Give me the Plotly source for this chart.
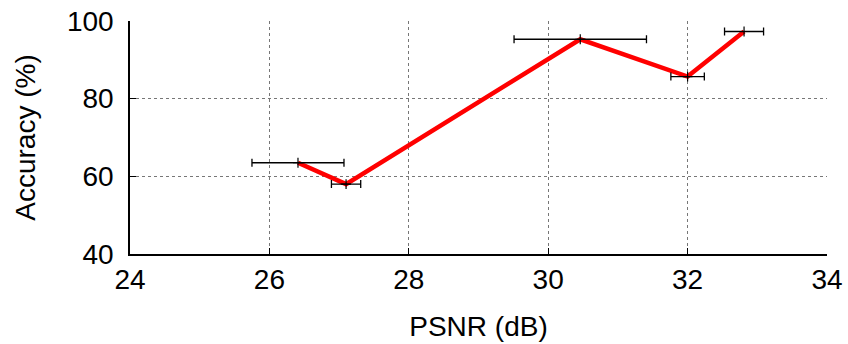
import plotly.graph_objects as go

# Measured accuracy vs. reconstruction quality, with PSNR spread
psnr = [26.41, 27.10, 30.46, 32.00, 32.81]
accuracy = [63.5, 58.0, 95.3, 85.7, 97.3]
psnr_err = [0.66, 0.21, 0.95, 0.24, 0.28]

x_ticks = [24, 26, 28, 30, 32, 34]
y_ticks = [40, 60, 80, 100]

FONT = "Liberation Sans, Arial, Helvetica, sans-serif"
FSIZE = 28

fig = go.Figure()

# Thick red curve through the mean points
fig.add_trace(go.Scatter(
    x=psnr, y=accuracy, mode="lines",
    line=dict(color="#ff0000", width=4.5),
    hoverinfo="skip", showlegend=False,
))

# Horizontal error bars plus small cross markers on top of the curve
fig.add_trace(go.Scatter(
    x=psnr, y=accuracy, mode="markers",
    marker=dict(symbol="cross-thin", size=7, color="black",
                line=dict(width=1.2, color="black")),
    error_x=dict(type="data", array=psnr_err, visible=True,
                 color="black", thickness=1.3, width=4),
    showlegend=False,
))

axis_common = dict(
    showline=True, linecolor="black", linewidth=1.5,
    ticks="inside", ticklen=6, tickwidth=1, tickcolor="black",
    showgrid=True, gridcolor="#777777", griddash="dot", gridwidth=1,
    zeroline=False, mirror=False, automargin=False,
    tickfont=dict(family=FONT, size=FSIZE, color="black"),
)

fig.update_xaxes(
    range=[24, 34], tickvals=x_ticks, ticktext=[str(v) for v in x_ticks],
    title=dict(text="PSNR (dB)", font=dict(family=FONT, size=FSIZE, color="black"),
               standoff=22),
    **axis_common,
)
fig.update_yaxes(
    range=[40, 100], tickvals=y_ticks, ticktext=[str(v) for v in y_ticks],
    ticklabelstandoff=9,
    title=dict(text="Accuracy (%)", font=dict(family=FONT, size=FSIZE, color="black"),
               standoff=23),
    **axis_common,
)

fig.update_layout(
    width=848, height=344,
    margin=dict(l=130, r=21, t=21, b=90),
    plot_bgcolor="white", paper_bgcolor="white",
    font=dict(family=FONT, color="black"),
)

fig.write_html("out.html")
